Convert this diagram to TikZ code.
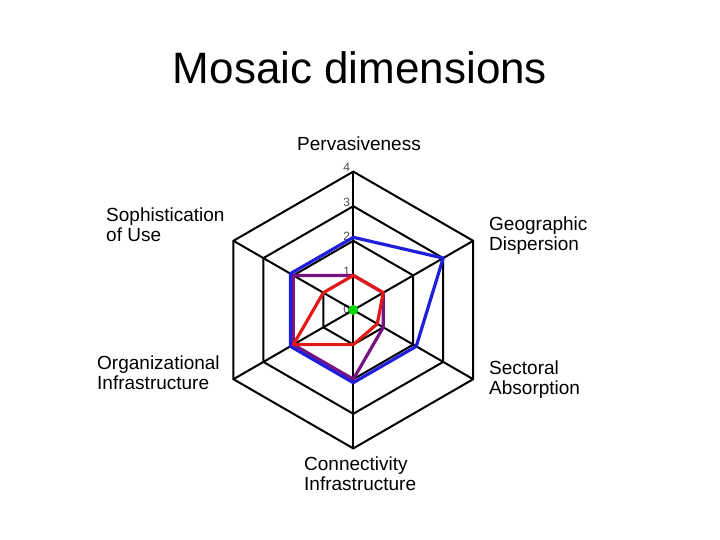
\documentclass[tikz,border=0pt]{standalone}
\usepackage{fontspec}
\setmainfont{Liberation Sans}
\begin{document}
\begin{tikzpicture}[x=1pt,y=-1pt,
  ring/.style={black,line width=2pt,line join=miter},
  lab/.style={font=\fontsize{19}{20}\selectfont,align=left,inner sep=0pt},
  tick/.style={font=\fontsize{12}{12}\selectfont,text=gray!60!black,inner sep=0pt}]
\useasboundingbox (0,0) rectangle (720,540);
\def\u{34.6}
\coordinate (c) at (353.3,310);
\node[font=\fontsize{44}{46}\selectfont,inner sep=0pt] (title) at (360,68) {Mosaic dimensions};
\foreach \r in {1,2,3,4}{
  \draw[ring] ([shift={(90:\r*\u)}]c) -- ([shift={(30:\r*\u)}]c) -- ([shift={(-30:\r*\u)}]c) -- ([shift={(-90:\r*\u)}]c) -- ([shift={(-150:\r*\u)}]c) -- ([shift={(150:\r*\u)}]c) -- cycle;
  \node[tick,anchor=east] (t\r) at ([shift={(-3,-\r*\u-4)}]c) {\r};
}
\node[tick,anchor=east] (t0) at ([shift={(-3,-1)}]c) {0};
\foreach \a in {90,30,-30,-90,-150,150}
  \draw[ring] (c) -- ([shift={(\a:4*\u)}]c);
\newcommand{\poly}[7]{%
  \draw[#1,line width=3.2pt,line join=round] ([shift={(-90:#2*\u)}]c) -- ([shift={(-30:#3*\u)}]c) -- ([shift={(30:#4*\u)}]c) -- ([shift={(90:#5*\u)}]c) -- ([shift={(150:#6*\u)}]c) -- ([shift={(210:#7*\u)}]c) -- cycle;}
\definecolor{pur}{RGB}{120,20,130}
\definecolor{blu}{RGB}{30,30,220}
\definecolor{rd}{RGB}{225,25,25}
\poly{pur}{1}{1}{1}{2}{2}{2}
\poly{blu}{2.1}{3}{2.1}{2.1}{2.1}{2.1}
\poly{rd}{1}{1}{0.8}{1}{2}{1}
\fill[green!85!black] (c) circle (5);
\node[lab,anchor=base] (pv) at (359,151) {Pervasiveness};
\node[lab,anchor=north west] (gd) at (489,217) {Geographic\\Dispersion};
\node[lab,anchor=north west] (sa) at (489,361) {Sectoral\\Absorption};
\node[lab,anchor=north west] (ci) at (304,457) {Connectivity\\Infrastructure};
\node[lab,anchor=north west] (oi) at (97,356) {Organizational\\Infrastructure};
\node[lab,anchor=north west] (su) at (106,208) {Sophistication\\of Use};
\end{tikzpicture}
\end{document}
